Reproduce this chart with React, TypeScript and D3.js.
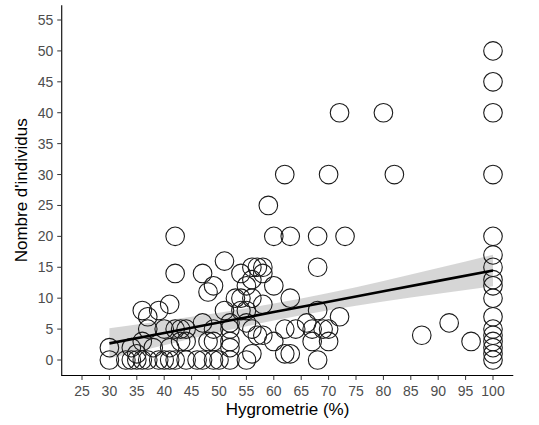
import React from "react";
import * as d3 from "d3";

const hygro: number[] = [
  // left cluster
  42, 42, 36, 37, 39, 41, 37, 40, 42, 43, 30, 34, 36, 38, 41, 43, 35,
  30, 33, 34, 35, 36, 37, 39, 40, 41, 42,
  // middle cluster
  51, 47, 54, 56, 57, 58, 48, 49, 55, 56, 53, 54, 56, 58, 51, 54, 55, 52, 44, 47, 49, 52, 56,
  48, 49, 52, 57, 44, 52, 56, 44, 46, 47, 49, 50, 52, 55, 55,
  // right-middle
  62, 70, 82, 72, 80, 59, 60, 63, 68, 73, 68, 58, 60, 63, 68, 72, 62, 64, 67, 69, 70,
  58, 60, 67, 70, 62, 63, 68, 66,
  // far right
  87, 92, 96,
  100, 100, 100, 100, 100, 100, 100, 100, 100, 100, 100, 100, 100, 100, 100, 100, 100,
];

const individus: number[] = [
  20, 14, 8, 7, 8, 9, 5, 5, 5, 5, 2, 2, 3, 2, 2, 3, 1,
  0, 0, 0, 0, 0, 0, 0, 0, 0, 0,
  16, 14, 14, 15, 15, 14, 11, 12, 12, 13, 10, 10, 10, 9, 8, 8, 8, 6, 5, 6, 5, 5, 5,
  3, 3, 3, 4, 3, 2, 1, 0, 0, 0, 0, 0, 0, 0, 6,
  30, 30, 30, 40, 40, 25, 20, 20, 20, 20, 15, 15, 12, 10, 8, 7, 5, 5, 5, 5, 5,
  4, 3, 3, 3, 1, 1, 0, 6,
  4, 6, 3,
  50, 45, 40, 30, 20, 17, 15, 13, 12, 10, 7, 5, 4, 3, 2, 1, 0,
];

// linear smooth (lm) with its 95% confidence band
const bandX: number[] = [30, 40, 50, 60, 70, 80, 90, 100];
const fitY: number[] = [2.69, 4.37, 6.06, 7.75, 9.43, 11.12, 12.8, 14.49];
const bandLo: number[] = [0.24, 2.39, 4.47, 6.38, 8.03, 9.46, 10.73, 11.94];
const bandHi: number[] = [5.14, 6.35, 7.65, 9.12, 10.83, 12.78, 14.87, 17.04];

const xTicks: number[] = [25, 30, 35, 40, 45, 50, 55, 60, 65, 70, 75, 80, 85, 90, 95, 100];
const yTicks: number[] = [0, 5, 10, 15, 20, 25, 30, 35, 40, 45, 50, 55];

const xTitle = "Hygrometrie (%)";
const yTitle = "Nombre d'individus";

export default function App() {
  const W = 539;
  const H = 425;
  const x = d3.scaleLinear().domain([25, 100]).range([82, 493]);
  const y = d3.scaleLinear().domain([0, 55]).range([360, 20]);
  const xMin = 21.3, xMax = 103.7, yMin = -2.5, yMax = 57.4;

  const band = bandX.map((bx, i) => ({ bx, fy: fitY[i], lo: bandLo[i], hi: bandHi[i] }));
  const area = d3
    .area<{ bx: number; lo: number; hi: number }>()
    .x((d) => x(d.bx))
    .y0((d) => y(d.lo))
    .y1((d) => y(d.hi))
    .curve(d3.curveMonotoneX);
  const line = d3
    .line<{ bx: number; fy: number }>()
    .x((d) => x(d.bx))
    .y((d) => y(d.fy));

  const font = "'Liberation Sans', Arial, Helvetica, sans-serif";

  return (
    <svg
      width={W}
      height={H}
      style={{ position: "absolute", left: 0, top: 0, background: "#fff" }}
      fontFamily={font}
    >
      <rect x={0} y={0} width={W} height={H} fill="#fff" />
      <path d={area(band) || ""} fill="#999999" fillOpacity={0.4} stroke="none" />
      {hygro.map((hx, i) => (
        <circle
          key={i}
          cx={x(hx)}
          cy={y(individus[i])}
          r={9.3}
          fill="none"
          stroke="#1a1a1a"
          strokeWidth={1.1}
        />
      ))}
      <path d={line(band) || ""} fill="none" stroke="#000" strokeWidth={2.6} />

      {/* axes */}
      <line x1={x(xMin)} x2={x(xMax)} y1={y(yMin)} y2={y(yMin)} stroke="#000" strokeWidth={1.1} />
      <line x1={x(xMin)} x2={x(xMin)} y1={y(yMin) + 0.5} y2={y(yMax)} stroke="#000" strokeWidth={1.1} />
      {xTicks.map((v) => (
        <g key={"x" + v}>
          <line x1={x(v)} x2={x(v)} y1={y(yMin)} y2={y(yMin) + 4.5} stroke="#333" strokeWidth={1} />
          <text x={x(v)} y={y(yMin) + 21} textAnchor="middle" fontSize={14} fill="#4d4d4d">
            {v}
          </text>
        </g>
      ))}
      {yTicks.map((v) => (
        <g key={"y" + v}>
          <line x1={x(xMin) - 4.5} x2={x(xMin)} y1={y(v)} y2={y(v)} stroke="#333" strokeWidth={1} />
          <text x={x(xMin) - 8.5} y={y(v) + 5} textAnchor="end" fontSize={14} fill="#4d4d4d">
            {v}
          </text>
        </g>
      ))}
      <text x={(x(xMin) + x(xMax)) / 2} y={415} textAnchor="middle" fontSize={17} fill="#000">
        {xTitle}
      </text>
      <text
        transform={`translate(27, ${(y(yMin) + y(yMax)) / 2}) rotate(-90)`}
        textAnchor="middle"
        fontSize={17}
        fill="#000"
      >
        {yTitle}
      </text>
    </svg>
  );
}
